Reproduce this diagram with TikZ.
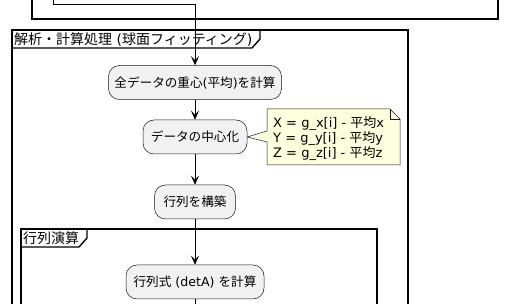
\documentclass[tikz,border=0pt]{standalone}
\usepackage{fontspec}
\setmainfont{DejaVu Sans}
\newfontfamily\jp{Noto Sans CJK JP}
\usetikzlibrary{arrows.meta}
\definecolor{nodefill}{HTML}{F1F1F1}
\definecolor{nodeborder}{HTML}{181818}
\definecolor{notefill}{HTML}{FEFFDD}
\newcommand{\J}[1]{{\jp #1}}
\tikzset{
  act/.style={draw=nodeborder, fill=nodefill, line width=0.5pt, rounded corners=11pt,
    minimum height=34pt, inner sep=0pt, font=\fontsize{12.6}{14}\selectfont, anchor=center},
  frameline/.style={draw=black, line width=1.4pt},
  conn/.style={draw=black, line width=0.9pt, -{Stealth[length=9pt,width=8pt,inset=4pt]}},
  plain/.style={draw=black, line width=0.9pt},
  tabtext/.style={font=\fontsize{14}{16}\selectfont, anchor=west, inner sep=0pt},
  notetext/.style={anchor=north west, inner sep=0pt, align=left, font=\fontsize{13}{13.3}\selectfont},
}
\begin{document}
\begin{tikzpicture}[x=1pt,y=-1pt]
\useasboundingbox (0,0) rectangle (506,304);
\clip (0,0) rectangle (506,304);
\fill[white] (0,0) rectangle (506,304);
% top frame
\draw[frameline] (32,-20) rectangle (498,19);
% frame 2
\draw[frameline] (12,30) rectangle (408,330);
\draw[frameline] (12,48) -- (252,48) -- (260,39) -- (260,30);
\node[tabtext] (t2) at (14,39.5) {\J{解析・計算処理} (\J{球面フィッティング})};
% frame 3
\draw[frameline] (21,229) rectangle (377,330);
\draw[frameline] (21,247) -- (79,247) -- (87,238) -- (87,229);
\node[tabtext] (t3) at (23,238.5) {\J{行列演算}};
% nodes
\node[act, minimum width=173pt] (n1) at (195,82.5) {\J{全データの重心}(\J{平均})\J{を計算}};
\node[act, minimum width=104pt] (n2) at (195,137) {\J{データの中心化}};
\node[act, minimum width=81pt] (n3) at (195,202) {\J{行列を構築}};
\node[act, minimum width=138pt] (n4) at (195,282) {\J{行列式} (detA) \J{を計算}};
% note
\fill[notefill] (267,109) -- (390,109) -- (400,119) -- (400,165) -- (267,165) -- (267,142) -- (n2.east) -- (267,131) -- cycle;
\draw[nodeborder, line width=0.5pt] (267,109) -- (390,109) -- (400,119) -- (400,165) -- (267,165) -- (267,142) -- (n2.east) -- (267,131) -- cycle;
\draw[nodeborder, line width=0.5pt] (390,109) -- (390,119) -- (400,119);
\node[notetext] (note) at (273,116.5)
  {X = g\_x[i] - \J{平均}x\\Y = g\_y[i] - \J{平均}y\\Z = g\_z[i] - \J{平均}z};
% connectors
\coordinate (start) at (53,-2);
\coordinate (end) at (195,310);
\draw[conn] (start) -- (53,4) -- (195,4) -- (n1.north);
\draw[conn] (n1) -- (n2);
\draw[conn] (n2) -- (n3);
\draw[conn] (n3) -- (n4);
\draw[plain] (n4) -- (end);
\end{tikzpicture}
\end{document}
